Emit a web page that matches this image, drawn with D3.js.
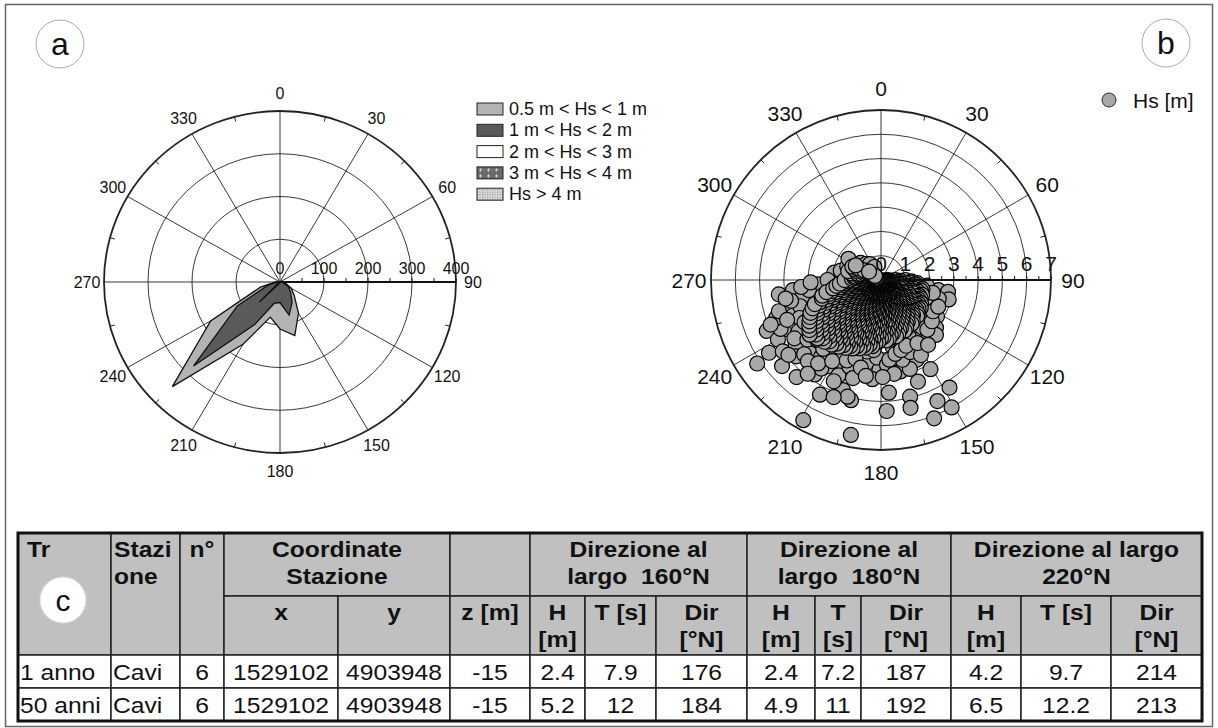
<!DOCTYPE html>
<html>
<head>
<meta charset="utf-8">
<script src="https://cdn.jsdelivr.net/npm/d3@7"></script>
<style>
body { margin: 0; background: #fff; }
svg text { font-family: "Liberation Sans", Arial, sans-serif; fill: #111; }
</style>
</head>
<body>
<svg id="fig" width="1218" height="728"></svg>
<script>
// ---- panel a: wave rose, counts per 15 deg sector ----
const roseDirs  = [0, 15, 30, 45, 60, 75, 90, 105, 120, 135, 150, 165, 180, 195, 210, 225, 240, 255, 270, 285, 300, 315, 330, 345];
const roseLight = [0, 0, 0, 0, 0, 2, 6, 14, 30, 46, 84, 130, 110, 85, 168, 346, 182, 46, 10, 3, 0, 0, 0, 0];
const roseDark  = [0, 0, 0, 0, 0, 1, 4, 8, 22, 34, 55, 80, 48, 52, 115, 278, 112, 28, 5, 1, 0, 0, 0, 0];
const roseWhite = [0, 0, 0, 0, 0, 0, 0, 0, 0, 0, 0, 0, 0, 0, 4, 66, 4, 0, 0, 0, 0, 0, 0, 0];
const roseLegend = ["0.5 m < Hs < 1 m", "1 m < Hs < 2 m", "2 m < Hs < 3 m", "3 m < Hs < 4 m", "Hs > 4 m"];
const roseRadTicks = [0, 100, 200, 300, 400];
const angleTicks = [0, 30, 60, 90, 120, 150, 180, 210, 240, 270, 300, 330];

// ---- panel b: Hs [m] vs direction ----
const hsAxisTicks = [0, 1, 2, 3, 4, 5, 6, 7];
const hsCore = [
  [90, [0.2, 0.6, 1.0]],
  [95, [0.3, 0.7, 1.2, 1.5]],
  [100, [0.2, 0.5, 0.9, 1.3, 1.6]],
  [105, [0.4, 0.8, 1.1, 1.4, 1.7]],
  [110, [0.3, 0.6, 1.0, 1.3, 1.5, 1.8]],
  [115, [0.2, 0.5, 0.9, 1.2, 1.6, 1.8]],
  [120, [0.4, 0.7, 1.0, 1.4, 1.7, 1.9]],
  [125, [0.3, 0.6, 0.8, 1.2, 1.5, 1.8, 2.0]],
  [130, [0.2, 0.5, 0.9, 1.1, 1.4, 1.7, 1.9]],
  [135, [0.4, 0.7, 1.0, 1.3, 1.6, 1.8, 2.1]],
  [140, [0.3, 0.6, 0.8, 1.2, 1.5, 1.7, 2.0]],
  [145, [0.2, 0.5, 0.9, 1.1, 1.4, 1.6, 1.9, 2.2]],
  [150, [0.4, 0.7, 1.0, 1.3, 1.5, 1.8, 2.1]],
  [155, [0.3, 0.6, 0.8, 1.2, 1.4, 1.7, 2.0, 2.3]],
  [160, [0.2, 0.5, 0.9, 1.1, 1.3, 1.6, 1.9, 2.2]],
  [165, [0.4, 0.7, 1.0, 1.2, 1.5, 1.8, 2.1, 2.4]],
  [170, [0.3, 0.6, 0.8, 1.1, 1.4, 1.7, 2.0, 2.3]],
  [175, [0.2, 0.5, 0.9, 1.2, 1.5, 1.8, 2.2, 2.5]],
  [180, [0.4, 0.7, 1.0, 1.3, 1.6, 1.9, 2.1, 2.4]],
  [185, [0.3, 0.6, 0.8, 1.1, 1.4, 1.7, 2.0, 2.3, 2.6]],
  [190, [0.2, 0.5, 0.9, 1.2, 1.5, 1.8, 2.1, 2.5, 2.7]],
  [195, [0.4, 0.7, 1.0, 1.3, 1.6, 1.9, 2.2, 2.4, 2.8]],
  [200, [0.3, 0.6, 0.8, 1.1, 1.4, 1.7, 2.0, 2.3, 2.6, 2.9]],
  [205, [0.2, 0.5, 0.9, 1.2, 1.5, 1.8, 2.1, 2.4, 2.7, 3.0]],
  [210, [0.4, 0.7, 1.0, 1.3, 1.6, 1.9, 2.2, 2.5, 2.8, 3.1]],
  [215, [0.3, 0.6, 0.8, 1.1, 1.4, 1.7, 2.0, 2.3, 2.6, 2.9, 3.2]],
  [220, [0.2, 0.5, 0.9, 1.2, 1.5, 1.8, 2.1, 2.4, 2.7, 3.0, 3.3]],
  [225, [0.4, 0.7, 1.0, 1.3, 1.6, 1.9, 2.2, 2.5, 2.8, 3.1, 3.4]],
  [230, [0.3, 0.6, 0.8, 1.1, 1.4, 1.7, 2.0, 2.3, 2.6, 2.9, 3.2, 3.5]],
  [235, [0.2, 0.5, 0.9, 1.2, 1.5, 1.8, 2.1, 2.4, 2.7, 3.0, 3.3, 3.6]],
  [240, [0.4, 0.7, 1.0, 1.3, 1.6, 1.9, 2.2, 2.5, 2.8, 3.1, 3.4]],
  [245, [0.3, 0.6, 0.8, 1.1, 1.4, 1.7, 2.0, 2.3, 2.6, 2.9, 3.2]],
  [250, [0.2, 0.5, 0.9, 1.2, 1.5, 1.8, 2.1, 2.4, 2.7, 2.9]],
  [255, [0.4, 0.7, 1.0, 1.3, 1.6, 1.9, 2.2, 2.5]],
  [260, [0.3, 0.6, 0.8, 1.1, 1.4, 1.7, 2.0]],
  [265, [0.2, 0.5, 0.9, 1.2, 1.5, 1.7]],
  [270, [0.4, 0.7, 1.0, 1.3, 1.5]],
  [275, [0.3, 0.6, 0.8, 1.1]],
  [280, [0.2, 0.5, 0.9]],
  [285, [0.4, 0.7, 1.0, 1.4]],
  [290, [0.3, 0.6, 1.1]],
  [295, [0.2, 0.5, 0.9, 1.3]],
  [300, [0.4, 0.8, 1.2]],
  [305, [0.3, 0.6]],
  [310, [0.5]]
];
const hsCore2 = [
  [92.5, [0.35, 0.8, 1.25]],
  [97.5, [0.25, 0.65, 1.05, 1.45]],
  [102.5, [0.35, 0.75, 1.15, 1.5, 1.75]],
  [107.5, [0.25, 0.65, 0.95, 1.25, 1.6]],
  [112.5, [0.45, 0.8, 1.15, 1.45, 1.7]],
  [117.5, [0.35, 0.65, 1.05, 1.35, 1.75]],
  [122.5, [0.25, 0.55, 0.85, 1.25, 1.55, 1.85]],
  [127.5, [0.45, 0.75, 1.05, 1.35, 1.65, 1.95]],
  [132.5, [0.35, 0.65, 1.0, 1.25, 1.55, 1.85, 2.05]],
  [137.5, [0.25, 0.55, 0.85, 1.15, 1.45, 1.75, 1.95]],
  [142.5, [0.45, 0.75, 1.0, 1.35, 1.65, 1.85, 2.15]],
  [147.5, [0.35, 0.65, 0.95, 1.25, 1.55, 1.75, 2.05]],
  [152.5, [0.25, 0.55, 0.85, 1.15, 1.35, 1.65, 1.95, 2.25]],
  [157.5, [0.45, 0.75, 0.95, 1.25, 1.55, 1.85, 2.15]],
  [162.5, [0.35, 0.65, 0.85, 1.2, 1.45, 1.75, 2.05, 2.35]],
  [167.5, [0.25, 0.55, 0.85, 1.05, 1.35, 1.65, 1.95, 2.25]],
  [172.5, [0.45, 0.75, 0.95, 1.25, 1.55, 1.85, 2.15, 2.45]],
  [177.5, [0.35, 0.65, 0.85, 1.05, 1.35, 1.65, 2.05, 2.35]],
  [182.5, [0.25, 0.55, 0.85, 1.15, 1.45, 1.75, 2.0, 2.25, 2.55]],
  [187.5, [0.45, 0.75, 0.95, 1.25, 1.55, 1.85, 2.15, 2.45, 2.75]],
  [192.5, [0.35, 0.65, 0.85, 1.05, 1.35, 1.65, 1.95, 2.3, 2.6, 2.85]],
  [197.5, [0.25, 0.55, 0.85, 1.15, 1.45, 1.75, 2.05, 2.35, 2.65, 2.95]],
  [202.5, [0.45, 0.75, 0.95, 1.25, 1.55, 1.85, 2.15, 2.45, 2.75, 3.05]],
  [207.5, [0.35, 0.65, 0.85, 1.05, 1.35, 1.65, 1.95, 2.35, 2.65, 2.95, 3.15]],
  [212.5, [0.25, 0.55, 0.85, 1.15, 1.45, 1.75, 2.05, 2.35, 2.65, 2.95, 3.25]],
  [217.5, [0.45, 0.75, 0.95, 1.25, 1.55, 1.85, 2.15, 2.45, 2.75, 3.05, 3.35]],
  [222.5, [0.35, 0.65, 0.85, 1.05, 1.35, 1.65, 1.95, 2.25, 2.55, 2.85, 3.15, 3.45]],
  [227.5, [0.25, 0.55, 0.85, 1.15, 1.45, 1.75, 2.05, 2.35, 2.65, 2.95, 3.25, 3.55]],
  [232.5, [0.45, 0.75, 0.95, 1.25, 1.55, 1.85, 2.15, 2.45, 2.75, 3.05, 3.35, 3.7]],
  [237.5, [0.35, 0.65, 0.85, 1.05, 1.35, 1.65, 1.95, 2.25, 2.55, 2.85, 3.15, 3.5]],
  [242.5, [0.25, 0.55, 0.85, 1.15, 1.45, 1.75, 2.05, 2.35, 2.65, 2.95, 3.3]],
  [247.5, [0.45, 0.75, 0.95, 1.25, 1.55, 1.85, 2.15, 2.45, 2.75, 3.05]],
  [252.5, [0.35, 0.65, 0.85, 1.05, 1.35, 1.65, 1.95, 2.25, 2.55]],
  [257.5, [0.25, 0.55, 0.85, 1.15, 1.45, 1.75, 2.05, 2.3]],
  [262.5, [0.45, 0.75, 0.95, 1.25, 1.55, 1.85]],
  [267.5, [0.35, 0.65, 0.85, 1.05, 1.35]],
  [272.5, [0.25, 0.55, 0.85, 1.2]],
  [277.5, [0.45, 0.75, 1.05]],
  [282.5, [0.35, 0.65, 0.95, 1.25]],
  [287.5, [0.25, 0.55, 0.85]],
  [292.5, [0.45, 0.75, 1.2]],
  [297.5, [0.35, 0.65, 1.05]],
  [302.5, [0.25, 0.55]]
];
const hsFringe = [
  [236, 6.15], [209, 6.6], [191, 6.5], [177.5, 5.4], [176, 4.65], [166, 4.95], [167, 5.4],
  [159, 6.1], [155, 5.5], [147.5, 5.25], [151, 6.0], [151, 4.2], [160, 4.45], [156, 3.6],
  [199, 4.8], [194, 5.1], [196, 5.0], [208, 5.35], [215, 4.75], [221, 5.3], [229, 5.4],
  [237, 5.5], [246, 5.15], [262, 4.25], [263.5, 3.65], [279, 1.95], [300, 1.4], [100, 2.4],
  [100, 2.8], [106, 2.9], [108, 2.5], [123, 2.75], [131, 3.0], [141, 3.0], [188, 3.4],
  [181, 3.7], [168, 3.85], [162, 3.85], [208, 3.9], [212, 4.2], [250, 4.2], [255, 4.0],
  [248, 3.9], [243, 4.5], [240, 4.9], [233, 4.4], [228, 4.7], [224, 4.2], [218, 4.0],
  [213, 3.6], [204, 4.3], [200, 3.8], [196, 4.2], [185, 4.1], [183, 3.2], [176, 3.5],
  [172, 3.9], [165, 3.4], [158, 3.2], [152, 3.5], [146, 2.9], [139, 2.6], [135, 3.2],
  [127, 2.4], [117, 2.3], [112, 2.0], [97, 1.9], [258, 3.3], [266, 2.6], [270, 2.2],
  [274, 1.6], [283, 1.7], [292, 1.5], [303, 1.6], [310, 1.1], [318, 0.9], [325, 0.8],
  [333, 0.6], [262, 3.0], [252, 3.5], [245, 3.7], [238, 4.0], [220, 3.7], [207, 3.4],
  [191, 3.0], [186, 2.9], [170, 2.8], [162, 2.7], [154, 2.6], [244, 4.6], [250, 4.6],
  [234, 5.0], [226, 4.4], [214, 4.4], [205, 4.6],
  [257, 3.8], [253, 4.4], [247, 4.2], [241, 3.6], [236, 4.3], [231, 3.9], [227, 3.6],
  [222, 4.5], [217, 4.3], [211, 3.9], [203, 3.6], [198, 3.4], [193, 3.7], [189, 4.0],
  [179, 4.0], [174, 3.3], [169, 3.1], [164, 3.0], [159, 2.9], [150, 3.0], [144, 3.3],
  [137, 2.8], [129, 2.7], [121, 2.5], [115, 2.6], [104, 2.2], [259, 4.0], [265, 3.3],
  [268, 2.9], [248, 4.9], [231, 4.9], [218, 4.9], [202, 5.2]
];

// ---- panel c: table ----
const tableHead = [
  { c: [0, 1], r: [0, 2], t: ["Tr"], a: "start" },
  { c: [1, 2], r: [0, 2], t: ["Stazi", "one"], a: "start" },
  { c: [2, 3], r: [0, 2], t: ["n°"] },
  { c: [3, 5], r: [0, 1], t: ["Coordinate", "Stazione"] },
  { c: [5, 6], r: [0, 1], t: [] },
  { c: [6, 9], r: [0, 1], t: ["Direzione al", "largo  160°N"] },
  { c: [9, 12], r: [0, 1], t: ["Direzione al", "largo  180°N"] },
  { c: [12, 15], r: [0, 1], t: ["Direzione al largo", "220°N"] },
  { c: [3, 4], r: [1, 2], t: ["x"] },
  { c: [4, 5], r: [1, 2], t: ["y"] },
  { c: [5, 6], r: [1, 2], t: ["z [m]"] },
  { c: [6, 7], r: [1, 2], t: ["H", "[m]"] },
  { c: [7, 8], r: [1, 2], t: ["T [s]"] },
  { c: [8, 9], r: [1, 2], t: ["Dir", "[°N]"] },
  { c: [9, 10], r: [1, 2], t: ["H", "[m]"] },
  { c: [10, 11], r: [1, 2], t: ["T", "[s]"] },
  { c: [11, 12], r: [1, 2], t: ["Dir", "[°N]"] },
  { c: [12, 13], r: [1, 2], t: ["H", "[m]"] },
  { c: [13, 14], r: [1, 2], t: ["T [s]"] },
  { c: [14, 15], r: [1, 2], t: ["Dir", "[°N]"] }
];
const tableRows = [
  ["1 anno", "Cavi", "6", "1529102", "4903948", "-15", "2.4", "7.9", "176", "2.4", "7.2", "187", "4.2", "9.7", "214"],
  ["50 anni", "Cavi", "6", "1529102", "4903948", "-15", "5.2", "12", "184", "4.9", "11", "192", "6.5", "12.2", "213"]
];

const svg = d3.select("#fig");
const rad = d => d * Math.PI / 180;

// outer frame
svg.append("rect")
  .attr("x", 5.5).attr("y", 4.5).attr("width", 1207).attr("height", 722)
  .attr("fill", "none").attr("stroke", "#666").attr("stroke-width", 1.5);

// panel letters
function badge(cx, cy, letter, fill) {
  svg.append("circle").attr("cx", cx).attr("cy", cy).attr("r", 24)
    .attr("fill", fill).attr("stroke", "#aaa").attr("stroke-width", 1);
  svg.append("text").attr("x", cx).attr("y", cy)
    .attr("text-anchor", "middle").attr("dominant-baseline", "central")
    .attr("font-size", 32).text(letter);
}
badge(60, 44, "a", "#fff");
badge(1166, 43, "b", "#fff");

// ---------- panel a ----------
const A = { x: 280, y: 282, sq: 171 / 176 };
const rA = d3.scaleLinear().domain([0, 400]).range([0, 176]);
const ga = svg.append("g").attr("transform", `translate(${A.x},${A.y}) scale(1,${A.sq})`);

ga.selectAll(".ring").data(roseRadTicks.slice(1)).join("circle")
  .attr("r", d => rA(d)).attr("fill", "none")
  .attr("stroke", "#222").attr("stroke-width", d => d === 400 ? 1.8 : 0.9)
  .attr("vector-effect", "non-scaling-stroke");

ga.selectAll(".spoke").data(angleTicks).join("line")
  .attr("x2", d => rA(400) * Math.sin(rad(d)))
  .attr("y2", d => -rA(400) * Math.cos(rad(d)))
  .attr("stroke", "#222").attr("stroke-width", 0.9)
  .attr("vector-effect", "non-scaling-stroke");

ga.selectAll(".rimtick").data(angleTicks.map(d => d + 15)).join("line")
  .attr("x1", d => rA(400) * Math.sin(rad(d)))
  .attr("y1", d => -rA(400) * Math.cos(rad(d)))
  .attr("x2", d => (rA(400) - 5) * Math.sin(rad(d)))
  .attr("y2", d => -(rA(400) - 5) * Math.cos(rad(d)))
  .attr("stroke", "#222").attr("stroke-width", 1)
  .attr("vector-effect", "non-scaling-stroke");

const roseLine = d3.lineRadial()
  .angle((d, i) => rad(roseDirs[i]))
  .radius(d => rA(d))
  .curve(d3.curveLinearClosed);

[[roseLight, "#b3b3b3"], [roseDark, "#5a5a5a"], [roseWhite, "#ffffff"]].forEach(([vals, col]) => {
  ga.append("path").attr("d", roseLine(vals))
    .attr("fill", col).attr("stroke", "#111").attr("stroke-width", 1.3)
    .attr("stroke-linejoin", "miter")
    .attr("vector-effect", "non-scaling-stroke");
});

// radial axis along 90
ga.append("line").attr("x2", rA(400)).attr("stroke", "#111").attr("stroke-width", 2)
  .attr("vector-effect", "non-scaling-stroke");
ga.selectAll(".atick").data(d3.range(50, 401, 50)).join("line")
  .attr("x1", d => rA(d)).attr("x2", d => rA(d)).attr("y2", -4)
  .attr("stroke", "#111").attr("stroke-width", 1)
  .attr("vector-effect", "non-scaling-stroke");

svg.selectAll(".alab").data(roseRadTicks).join("text")
  .attr("x", d => A.x + rA(d)).attr("y", A.y - 14)
  .attr("text-anchor", "middle").attr("dominant-baseline", "central")
  .attr("font-size", 16).text(d => d);

svg.selectAll(".aang").data(angleTicks).join("text")
  .attr("x", d => A.x + 193 * Math.sin(rad(d)))
  .attr("y", d => A.y - 189 * Math.cos(rad(d)))
  .attr("text-anchor", "middle").attr("dominant-baseline", "central")
  .attr("font-size", 16).text(d => d);

// legend patterns
const defs = svg.append("defs");
const p3 = defs.append("pattern").attr("id", "pat3").attr("patternUnits", "userSpaceOnUse")
  .attr("width", 8).attr("height", 6);
p3.append("rect").attr("width", 8).attr("height", 6).attr("fill", "#6a6a6a");
p3.append("path").attr("d", "M2,3h3M3.5,1.5v3").attr("stroke", "#eee").attr("stroke-width", 0.8);
const p4 = defs.append("pattern").attr("id", "pat4").attr("patternUnits", "userSpaceOnUse")
  .attr("width", 2.5).attr("height", 2.5);
p4.append("rect").attr("width", 2.5).attr("height", 2.5).attr("fill", "#d8d8d8");
p4.append("rect").attr("width", 1).attr("height", 1).attr("fill", "#888");

const legFill = ["#b3b3b3", "#5a5a5a", "#ffffff", "url(#pat3)", "url(#pat4)"];
const leg = svg.selectAll(".leg").data(roseLegend).join("g")
  .attr("transform", (d, i) => `translate(477,${109 + i * 21.3})`);
leg.append("rect").attr("y", -6).attr("width", 26).attr("height", 12)
  .attr("fill", (d, i) => legFill[i]).attr("stroke", "#222").attr("stroke-width", 1);
leg.append("text").attr("x", 32).attr("dominant-baseline", "central")
  .attr("font-size", 18).text(d => d);

// ---------- panel b ----------
const B = { x: 881, y: 280 };
const rB = d3.scaleLinear().domain([0, 7]).range([0, 170]);
const gb = svg.append("g").attr("transform", `translate(${B.x},${B.y})`);

gb.selectAll(".ring").data(hsAxisTicks.slice(1)).join("circle")
  .attr("r", d => rB(d)).attr("fill", "none")
  .attr("stroke", "#222").attr("stroke-width", d => d === 7 ? 1.8 : 0.9);

gb.selectAll(".spoke").data(angleTicks).join("line")
  .attr("x2", d => rB(7) * Math.sin(rad(d)))
  .attr("y2", d => -rB(7) * Math.cos(rad(d)))
  .attr("stroke", "#222").attr("stroke-width", 0.9);

gb.selectAll(".rimtick").data(angleTicks.map(d => d + 15)).join("line")
  .attr("x1", d => rB(7) * Math.sin(rad(d)))
  .attr("y1", d => -rB(7) * Math.cos(rad(d)))
  .attr("x2", d => (rB(7) - 5) * Math.sin(rad(d)))
  .attr("y2", d => -(rB(7) - 5) * Math.cos(rad(d)))
  .attr("stroke", "#222").attr("stroke-width", 1);

// scattered observations first, dense core on top so its outlines stack up
const pts = hsFringe.slice();
d3.zip(hsCore, hsCore2.concat([null])).forEach(([a, b]) => {
  a[1].forEach(h => pts.push([a[0], h]));
  if (b) b[1].forEach(h => pts.push([b[0], h]));
});

gb.selectAll(".pt").data(pts).join("circle")
  .attr("cx", d => rB(d[1]) * Math.sin(rad(d[0])))
  .attr("cy", d => -rB(d[1]) * Math.cos(rad(d[0])))
  .attr("r", 7.5)
  .attr("fill", "#a8a8a8").attr("stroke", "#000").attr("stroke-width", 1.2);

gb.append("line").attr("x2", rB(7)).attr("stroke", "#111").attr("stroke-width", 2);
gb.selectAll(".btick").data(d3.range(0.5, 7.01, 0.5)).join("line")
  .attr("x1", d => rB(d)).attr("x2", d => rB(d)).attr("y2", -4)
  .attr("stroke", "#111").attr("stroke-width", 1);

svg.selectAll(".blab").data(hsAxisTicks).join("text")
  .attr("x", d => B.x + rB(d)).attr("y", B.y - 17)
  .attr("text-anchor", "middle").attr("dominant-baseline", "central")
  .attr("font-size", 21).text(d => d);

svg.selectAll(".bang").data(angleTicks).join("text")
  .attr("x", d => B.x + 192 * Math.sin(rad(d)))
  .attr("y", d => B.y - 192 * Math.cos(rad(d)))
  .attr("text-anchor", "middle").attr("dominant-baseline", "central")
  .attr("font-size", 21).text(d => d);

svg.append("circle").attr("cx", 1109).attr("cy", 100).attr("r", 7)
  .attr("fill", "#a8a8a8").attr("stroke", "#2a2a2a").attr("stroke-width", 1);
svg.append("text").attr("x", 1133).attr("y", 100).attr("dominant-baseline", "central")
  .attr("font-size", 21).text("Hs [m]");

// ---------- panel c: table ----------
const colX = [18, 111, 180, 224, 338, 450, 530, 585, 656, 747, 815, 861, 951, 1021, 1111, 1202];
const rowY = [533, 596, 655, 688, 721];
const gt = svg.append("g");

gt.selectAll(".hcell").data(tableHead).join("rect")
  .attr("x", d => colX[d.c[0]]).attr("y", d => rowY[d.r[0]])
  .attr("width", d => colX[d.c[1]] - colX[d.c[0]])
  .attr("height", d => rowY[d.r[1]] - rowY[d.r[0]])
  .attr("fill", "#c0c0c0").attr("stroke", "#222").attr("stroke-width", 1.5);

const cellX = (c0, c1, a) => a === "start" ? colX[c0] + 3 : (colX[c0] + colX[c1]) / 2;

tableHead.forEach(d => {
  d.t.forEach((line, k) => {
    const x = d.c[0] === 0 ? colX[0] + 9 : cellX(d.c[0], d.c[1], d.a);
    const y = rowY[d.r[0]] + 24 + k * 26.5;
    gt.append("text")
      .attr("transform", `translate(${x},${y}) scale(1.12,1)`)
      .attr("text-anchor", d.a || "middle")
      .attr("font-size", 22).attr("font-weight", "bold")
      .style("white-space", "pre").text(line);
  });
});

tableRows.forEach((row, ri) => {
  const y0 = rowY[2 + ri], y1 = rowY[3 + ri];
  const g = gt.append("g");
  g.selectAll("rect").data(row).join("rect")
    .attr("x", (d, i) => colX[i]).attr("y", y0)
    .attr("width", (d, i) => colX[i + 1] - colX[i]).attr("height", y1 - y0)
    .attr("fill", "#fff").attr("stroke", "#222").attr("stroke-width", 1.5);
  g.selectAll("text").data(row).join("text")
    .attr("transform", (d, i) => `translate(${i < 2 ? colX[i] + 2 : (colX[i] + colX[i + 1]) / 2},${y0 + 25}) scale(1.12,1)`)
    .attr("text-anchor", (d, i) => i < 2 ? "start" : "middle")
    .attr("font-size", 22).text(d => d);
});

gt.append("rect").attr("x", colX[0]).attr("y", rowY[0])
  .attr("width", colX[15] - colX[0]).attr("height", rowY[4] - rowY[0])
  .attr("fill", "none").attr("stroke", "#111").attr("stroke-width", 3);

// "c" badge
svg.append("circle").attr("cx", 63).attr("cy", 600).attr("r", 23)
  .attr("fill", "#fff").attr("stroke", "#ddd").attr("stroke-width", 1);
svg.append("text").attr("x", 63).attr("y", 600)
  .attr("text-anchor", "middle").attr("dominant-baseline", "central")
  .attr("font-size", 30).text("c");
</script>
</body>
</html>
